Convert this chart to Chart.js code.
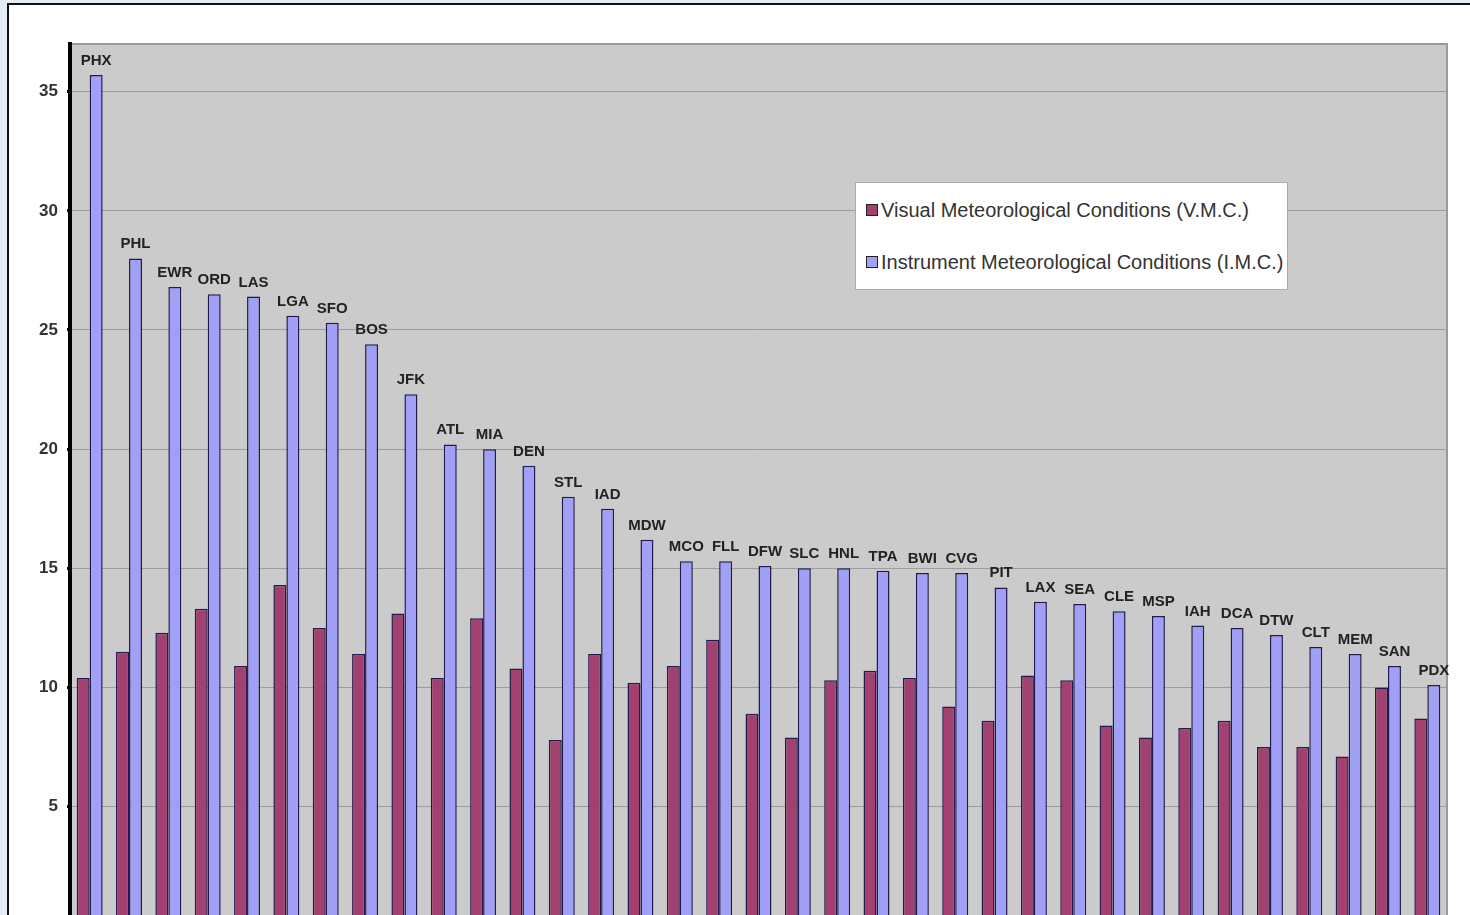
<!DOCTYPE html>
<html>
<head>
<meta charset="utf-8">
<script src="https://cdn.jsdelivr.net/npm/chart.js@4.4.0/dist/chart.umd.min.js"></script>
<style>
  html, body { margin: 0; padding: 0; overflow: hidden; width: 1470px; height: 915px; background: #e4ecf6; }
  #frame { position: absolute; left: 7px; top: 3px; width: 1470px; height: 960px; background: #fff;
           border-left: 2px solid #111; border-top: 2px solid #111; }
  #wrap { position: absolute; left: 0; top: 0; width: 1470px; height: 945px; }
  #legend { position: absolute; left: 855px; top: 182px; width: 431px; height: 106px; background: #fff;
            border: 1px solid #aaa; font-family: Arial, "Liberation Sans", sans-serif; font-size: 20px; color: #333; }
  #legend div { position: absolute; left: 10px; white-space: nowrap; }
  #legend span { display: inline-block; width: 10px; height: 10px; border: 1.5px solid #222; margin-right: 3px; vertical-align: 1px; }
</style>
</head>
<body>
<div id="frame"></div>
<div id="wrap"><canvas id="myChart" width="1470" height="945"></canvas></div>
<div id="legend"></div>
<script>
const airports = ['PHX','PHL','EWR','ORD','LAS','LGA','SFO','BOS','JFK','ATL','MIA','DEN','STL','IAD','MDW','MCO','FLL','DFW','SLC','HNL','TPA','BWI','CVG','PIT','LAX','SEA','CLE','MSP','IAH','DCA','DTW','CLT','MEM','SAN','PDX'];
const vmc = [10.4,11.5,12.3,13.3,10.9,14.3,12.5,11.4,13.1,10.4,12.9,10.8,7.8,11.4,10.2,10.9,12.0,8.9,7.9,10.3,10.7,10.4,9.2,8.6,10.5,10.3,8.4,7.9,8.3,8.6,7.5,7.5,7.1,10.0,8.7];
const imc = [35.7,28.0,26.8,26.5,26.4,25.6,25.3,24.4,22.3,20.2,20.0,19.3,18.0,17.5,16.2,15.3,15.3,15.1,15.0,15.0,14.9,14.8,14.8,14.2,13.6,13.5,13.2,13.0,12.6,12.5,12.2,11.7,11.4,10.9,10.1];
const seriesNames = ['Visual Meteorological Conditions (V.M.C.)', 'Instrument Meteorological Conditions (I.M.C.)'];
const yTicks = [0, 5, 10, 15, 20, 25, 30, 35];

const plotBg = {
  id: 'plotBg',
  beforeDraw(chart) {
    const {ctx, chartArea: a} = chart;
    ctx.save();
    ctx.fillStyle = '#cbcbcb';
    ctx.fillRect(a.left, a.top, a.right - a.left, a.bottom - a.top);
    ctx.strokeStyle = '#9a9a9a';
    ctx.lineWidth = 2;
    ctx.beginPath();
    ctx.moveTo(a.left, a.top);
    ctx.lineTo(a.right, a.top);
    ctx.lineTo(a.right, a.bottom);
    ctx.stroke();
    ctx.restore();
  }
};

const barLabels = {
  id: 'barLabels',
  afterDatasetsDraw(chart) {
    const {ctx} = chart;
    const meta = chart.getDatasetMeta(1);
    ctx.save();
    ctx.font = 'bold 15px Arial, "Liberation Sans", sans-serif';
    ctx.fillStyle = '#222';
    ctx.textAlign = 'center';
    ctx.textBaseline = 'alphabetic';
    meta.data.forEach((bar, i) => {
      ctx.fillText(airports[i], bar.x, bar.y - 10);
    });
    ctx.restore();
  }
};

const data = {
  labels: airports,
  datasets: [
    { label: seriesNames[0], data: vmc, backgroundColor: '#a2416f', borderColor: '#231a4c', borderWidth: 1.5 },
    { label: seriesNames[1], data: imc, backgroundColor: '#a0a0f6', borderColor: '#231a4c', borderWidth: 1.5 }
  ]
};

const myChart = new Chart(document.querySelector('#myChart'), {
  type: 'bar',
  data,
  options: {
    responsive: false,
    animation: false,
    devicePixelRatio: 1,
    layout: { padding: { top: 44, right: 23, bottom: 10, left: 0 } },
    datasets: { bar: { categoryPercentage: 0.66, barPercentage: 1.0 } },
    plugins: { legend: { display: false }, tooltip: { enabled: false } },
    scales: {
      x: { display: false },
      y: {
        min: 0,
        max: 37,
        afterFit(scale) { scale.width = 70; },
        afterBuildTicks(scale) { scale.ticks = yTicks.map(v => ({ value: v })); },
        border: { color: '#000', width: 4 },
        grid: { color: '#9c9c9c', lineWidth: 1, tickLength: 3, tickColor: '#000', tickWidth: 3 },
        ticks: { padding: 9, color: '#333', font: { family: 'Arial, "Liberation Sans", sans-serif', size: 17, weight: 'bold' } }
      }
    }
  },
  plugins: [plotBg, barLabels]
});

const legend = document.querySelector('#legend');
data.datasets.forEach((ds, i) => {
  const row = document.createElement('div');
  row.style.top = (i === 0 ? 16 : 68) + 'px';
  row.innerHTML = '<span style="background:' + ds.backgroundColor + '"></span>' + ds.label;
  legend.appendChild(row);
});
</script>
</body>
</html>
